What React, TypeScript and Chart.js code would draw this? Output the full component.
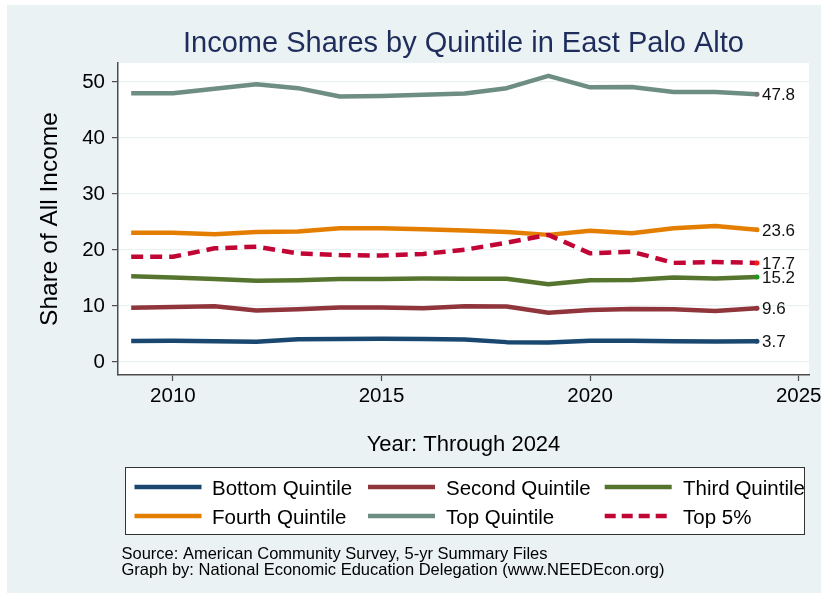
import React, { useEffect, useRef } from 'react';
import { Chart, registerables } from 'chart.js';

Chart.register(...registerables);

const years = [2009, 2010, 2011, 2012, 2013, 2014, 2015, 2016, 2017, 2018, 2019, 2020, 2021, 2022, 2023, 2024];
const bottomQuintile = [3.75, 3.8, 3.7, 3.6, 4.05, 4.1, 4.15, 4.1, 4.0, 3.55, 3.5, 3.8, 3.8, 3.7, 3.65, 3.7];
const secondQuintile = [9.7, 9.8, 9.95, 9.2, 9.4, 9.75, 9.75, 9.6, 9.95, 9.9, 8.8, 9.3, 9.45, 9.4, 9.1, 9.6];
const thirdQuintile = [15.3, 15.1, 14.8, 14.5, 14.6, 14.8, 14.8, 14.9, 14.85, 14.85, 13.9, 14.6, 14.65, 15.1, 14.9, 15.2];
const fourthQuintile = [23.1, 23.1, 22.8, 23.2, 23.3, 23.9, 23.9, 23.7, 23.5, 23.2, 22.7, 23.45, 23.0, 23.9, 24.3, 23.6];
const topQuintile = [48.0, 48.0, 48.8, 49.6, 48.9, 47.4, 47.5, 47.7, 47.95, 48.9, 51.1, 49.05, 49.1, 48.2, 48.2, 47.8];
const top5 = [18.8, 18.8, 20.3, 20.6, 19.4, 19.1, 19.0, 19.3, 20.05, 21.3, 22.7, 19.4, 19.7, 17.7, 17.85, 17.7];

const xTicks = [2010, 2015, 2020, 2025];
const yTicks = [0, 10, 20, 30, 40, 50];

const titleText = 'Income Shares by Quintile in East Palo Alto';
const yTitle = 'Share of All Income';
const xTitle = 'Year: Through 2024';
const notes = [
  'Source: American Community Survey, 5-yr Summary Files',
  'Graph by: National Economic Education Delegation (www.NEEDEcon.org)',
];

const FONT = '"Liberation Sans", Arial, Helvetica, sans-serif';
const BG = '#eaf2f3';
const AXIS = '#4d4d4d';

type Series = { label: string; data: number[]; color: string; dash: number[]; dot: string; order: number };
const series: Series[] = [
  { label: 'Bottom Quintile', data: bottomQuintile, color: '#1a476f', dash: [], dot: '#1a476f', order: 6 },
  { label: 'Second Quintile', data: secondQuintile, color: '#90353b', dash: [], dot: '#90353b', order: 5 },
  { label: 'Third Quintile', data: thirdQuintile, color: '#55752f', dash: [], dot: '#1a9a1a', order: 4 },
  { label: 'Fourth Quintile', data: fourthQuintile, color: '#e37e00', dash: [], dot: '#e37e00', order: 3 },
  { label: 'Top Quintile', data: topQuintile, color: '#6e8e84', dash: [], dot: '#7a7a7a', order: 2 },
  { label: 'Top 5%', data: top5, color: '#c10534', dash: [12, 7], dot: '#ff1a1a', order: 1 },
];

const decorPlugin = {
  id: 'decor',
  beforeDraw(chart: any) {
    const { ctx, chartArea: a } = chart;
    ctx.save();
    ctx.fillStyle = '#ffffff';
    ctx.fillRect(0, 0, chart.width, chart.height);
    ctx.fillStyle = BG;
    ctx.fillRect(7, 5, chart.width - 7, 588);
    ctx.fillStyle = '#ffffff';
    ctx.fillRect(a.left, a.top, a.right - a.left, a.bottom - a.top);
    ctx.restore();
  },
  afterDatasetsDraw(chart: any) {
    const { ctx } = chart;
    ctx.save();
    ctx.font = `17px ${FONT}`;
    ctx.fillStyle = '#111';
    ctx.textAlign = 'left';
    ctx.textBaseline = 'middle';
    chart.data.datasets.forEach((ds: any, i: number) => {
      const meta = chart.getDatasetMeta(i);
      const pts = meta.data;
      const p = pts[pts.length - 1];
      const v = ds.data[ds.data.length - 1].y;
      ctx.fillText(v.toFixed(1), p.x + 5, p.y + 1);
    });
    ctx.restore();
  },
  afterDraw(chart: any) {
    const { ctx, chartArea: a } = chart;
    ctx.save();
    // Title
    ctx.fillStyle = '#1e2d5b';
    ctx.font = `29px ${FONT}`;
    ctx.textAlign = 'center';
    ctx.textBaseline = 'alphabetic';
    ctx.fillText(titleText, (a.left + a.right) / 2, 52);
    // Y title
    ctx.fillStyle = '#000';
    ctx.font = `24.5px ${FONT}`;
    ctx.save();
    ctx.translate(56.5, (a.top + a.bottom) / 2);
    ctx.rotate(-Math.PI / 2);
    ctx.fillText(yTitle, 0, 0);
    ctx.restore();
    // X title
    ctx.font = `22px ${FONT}`;
    ctx.fillText(xTitle, (a.left + a.right) / 2, 451);
    // Legend box
    ctx.strokeStyle = '#333';
    ctx.lineWidth = 1;
    ctx.fillStyle = '#ffffff';
    ctx.fillRect(125.5, 467.5, 679, 67);
    ctx.strokeRect(125.5, 467.5, 679, 67);
    const lineX = [134.5, 368, 604.7];
    const textX = [212, 446, 683];
    const rowLineY = [487, 516];
    const rowTextY = [495, 524];
    ctx.font = `20.5px ${FONT}`;
    ctx.textAlign = 'left';
    series.forEach((s, i) => {
      const c = i % 3;
      const r = Math.floor(i / 3);
      ctx.strokeStyle = s.color;
      ctx.lineWidth = 4.5;
      ctx.setLineDash(s.dash.length ? [11, 6] : []);
      ctx.beginPath();
      ctx.moveTo(lineX[c], rowLineY[r]);
      ctx.lineTo(lineX[c] + 67, rowLineY[r]);
      ctx.stroke();
      ctx.setLineDash([]);
      ctx.fillStyle = '#000';
      ctx.fillText(s.label, textX[c], rowTextY[r]);
    });
    // Notes
    ctx.font = `16.5px ${FONT}`;
    ctx.fillStyle = '#000';
    ctx.fillText(notes[0], 121.5, 559);
    ctx.fillText(notes[1], 121.5, 575);
    ctx.restore();
  },
};

export default function App() {
  const ref = useRef<HTMLCanvasElement | null>(null);
  useEffect(() => {
    if (!ref.current) return;
    const chart = new Chart(ref.current, {
      type: 'line',
      data: {
        datasets: series.map((s) => ({
          label: s.label,
          data: s.data.map((v, i) => ({ x: years[i], y: v })),
          borderColor: s.color,
          backgroundColor: s.color,
          borderWidth: 4.5,
          borderDash: s.dash,
          borderJoinStyle: 'round' as const,
          borderCapStyle: 'butt' as const,
          tension: 0,
          fill: false,
          order: s.order,
          pointRadius: s.data.map((_, i) => (i === s.data.length - 1 ? 2.5 : 0)),
          pointBackgroundColor: s.dot,
          pointBorderWidth: 0,
        })),
      },
      options: {
        responsive: false,
        animation: false,
        devicePixelRatio: 1,
        layout: { padding: { left: 0, right: 12, top: 63, bottom: 0 } },
        plugins: {
          legend: { display: false },
          tooltip: { enabled: false },
          title: { display: false },
        },
        scales: {
          x: {
            type: 'linear',
            min: 2008.684,
            max: 2025.247,
            afterBuildTicks: (s: any) => {
              s.ticks = xTicks.map((v) => ({ value: v }));
            },
            afterFit: (s: any) => {
              s.height = 224;
              s.paddingLeft = 0;
              s.paddingRight = 0;
            },
            grid: { drawOnChartArea: false, drawTicks: true, tickLength: 6, tickColor: AXIS, tickWidth: 1.2 },
            border: { display: true, color: AXIS, width: 1.5 },
            ticks: {
              color: '#000',
              font: { family: FONT, size: 20.5 },
              padding: 3,
              maxRotation: 0,
              autoSkip: false,
              callback: (v: any) => String(v),
            },
          },
          y: {
            type: 'linear',
            min: -2.32,
            max: 53.39,
            afterBuildTicks: (s: any) => {
              s.ticks = yTicks.map((v) => ({ value: v }));
            },
            afterFit: (s: any) => {
              s.width = 118;
              s.paddingTop = 0;
              s.paddingBottom = 0;
            },
            grid: { color: BG, lineWidth: 1.2, drawTicks: true, tickLength: 6, tickColor: AXIS, tickWidth: 1.2 },
            border: { display: true, color: AXIS, width: 1.5 },
            ticks: {
              color: '#000',
              font: { family: FONT, size: 20.5 },
              padding: 7,
              callback: (v: any) => String(v),
            },
          },
        },
      },
      plugins: [decorPlugin],
    });
    return () => chart.destroy();
  }, []);
  return (
    <div style={{ position: 'absolute', left: 0, top: 0, width: 821, height: 599 }}>
      <canvas ref={ref} width={821} height={599} style={{ display: 'block' }} />
    </div>
  );
}
